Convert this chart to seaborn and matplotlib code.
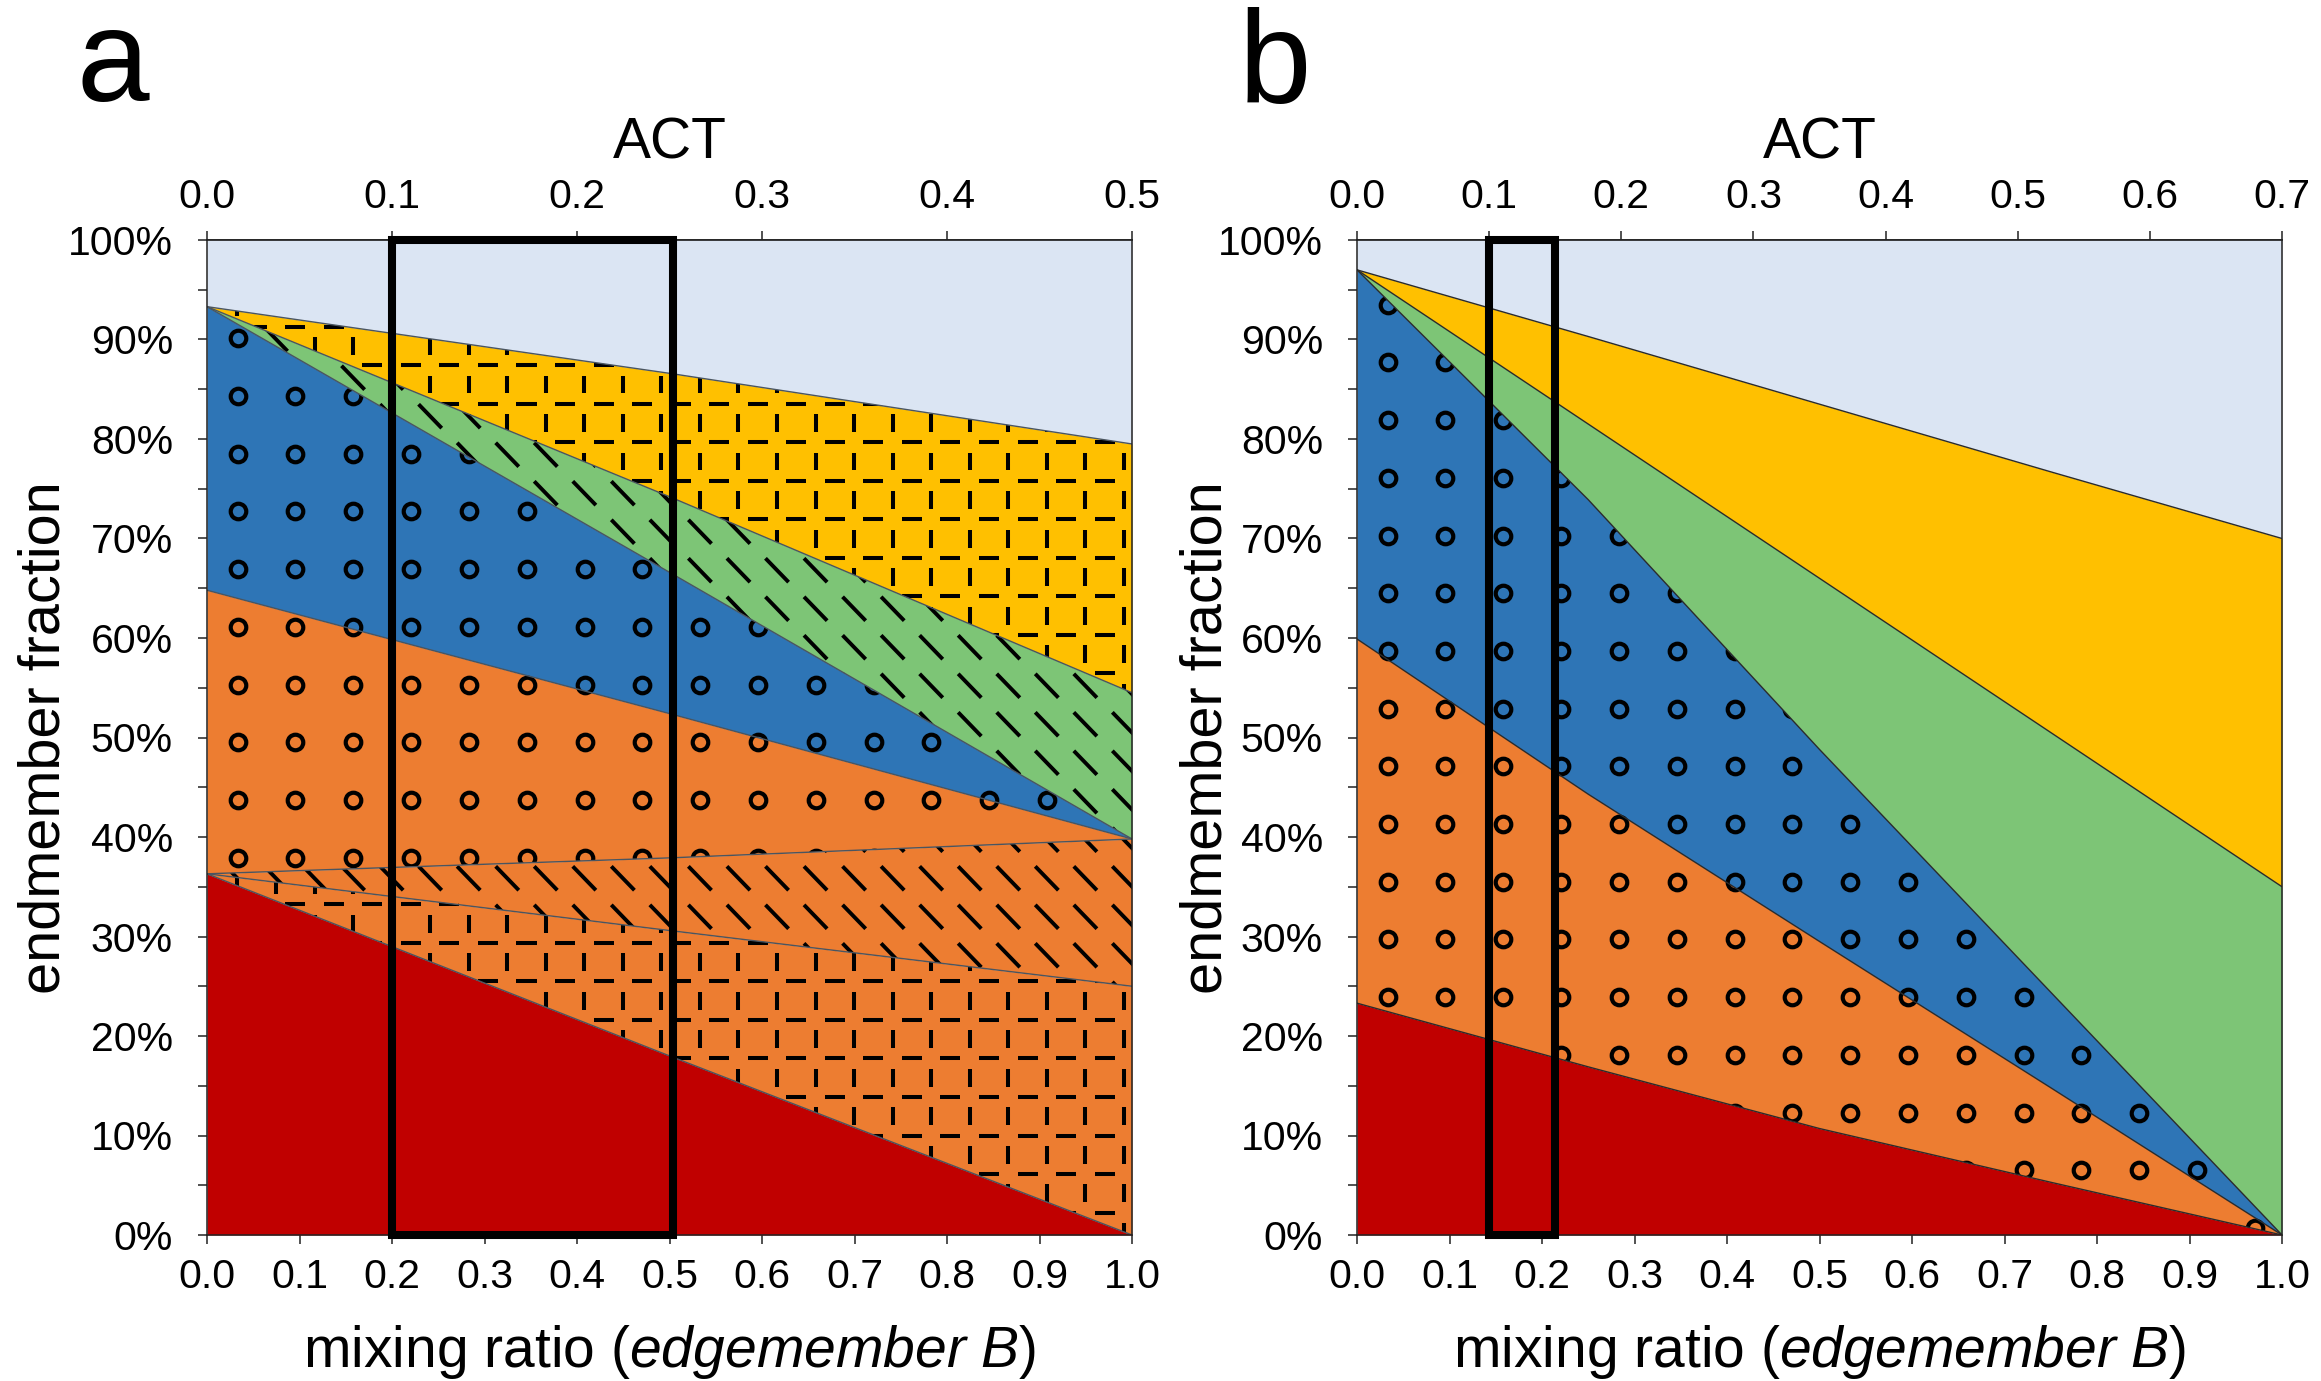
import numpy as np
import matplotlib
matplotlib.use("Agg")
import matplotlib.pyplot as plt
from matplotlib.patches import Polygon, Rectangle
from matplotlib.collections import LineCollection
import seaborn as sns

# ---- data (cumulative endmember fraction, %) ----
mix_a = [0.0, 0.5, 1.0]
a_red = [36.3, 18.0, 0.0]
a_div_low = [36.3, 30.6, 25.0]
a_div_high = [36.3, 37.9, 39.8]
a_orange = [64.8, 52.4, 39.8]
a_blue = [93.3, 66.6, 39.8]
a_green = [93.3, 74.2, 54.5]
a_yellow = [93.3, 86.6, 79.5]

mix_b = [0.0, 0.25, 0.5, 0.75, 1.0]
b_red = [23.3, 16.9, 10.7, 5.3, 0.0]
b_orange = [59.9, 44.3, 29.5, 14.8, 0.0]
b_blue = [97.0, 73.9, 48.8, 24.4, 0.0]
b_green = [97.0, 81.5, 66.0, 50.5, 35.0]
b_yellow = [97.0, 90.3, 83.5, 76.7, 70.0]

act_max_a = 0.5
act_max_b = 0.7
act_ticks_a = [0.0, 0.1, 0.2, 0.3, 0.4, 0.5]
act_ticks_b = [0.0, 0.1, 0.2, 0.3, 0.4, 0.5, 0.6, 0.7]
box_act_a = [0.10, 0.252]
box_act_b = [0.10, 0.15]
mix_ticks = [0.0, 0.1, 0.2, 0.3, 0.4, 0.5, 0.6, 0.7, 0.8, 0.9, 1.0]
pct_ticks = [0, 10, 20, 30, 40, 50, 60, 70, 80, 90, 100]

c_light = "#DBE5F3"
c_yellow = "#FFC000"
c_green = "#7DC576"
c_blue = "#2E75B6"
c_orange = "#ED7D31"
c_red = "#C00000"

sns.set_theme(style="ticks")
plt.rcParams["font.family"] = ["Liberation Sans", "DejaVu Sans"]
plt.rcParams["mathtext.fontset"] = "custom"
plt.rcParams["mathtext.rm"] = "Liberation Sans"
plt.rcParams["mathtext.it"] = "Liberation Sans:italic"
plt.rcParams["text.color"] = "black"
plt.rcParams["axes.labelcolor"] = "black"

TICK_FS = 29.5
LAB_FS = 41

# hatch cell sizes (texture only)
DX, DY = 1 / 24, 3.87
CX, CY = 1 / 16, 5.8


def region(ax, x, lo, hi, color):
    x = np.asarray(x, float)
    lo = np.asarray(lo, float)
    hi = np.asarray(hi, float)
    ax.fill_between(x, lo, hi, color=color, lw=0, zorder=1)
    verts = np.column_stack([np.r_[x, x[::-1]], np.r_[lo, hi[::-1]]])
    return Polygon(verts, closed=True, transform=ax.transData)


def circles(ax, clip, y0):
    gx, gy = np.meshgrid((np.arange(16) + 0.53) * CX, np.arange(y0, 100, CY))
    ln, = ax.plot(gx.ravel(), gy.ravel(), "o", ms=11.2, mfc="none",
                  mec="black", mew=3.0, zorder=2)
    ln.set_clip_path(clip)


def dash_grid(ax, clip):
    gx, gy = np.meshgrid((np.arange(-1, 26) + 0.79) * DX,
                         2.26 + np.arange(-1, 28) * DY)
    segs = []
    for x, y in zip(gx.ravel(), gy.ravel()):
        segs.append([(x, y + 0.27 * DY), (x, y + 0.73 * DY)])
        segs.append([(x + 0.24 * DX, y), (x + 0.76 * DX, y)])
    lc = LineCollection(segs, colors="black", linewidths=2.9, zorder=2,
                        capstyle="butt")
    ax.add_collection(lc)
    lc.set_clip_path(clip)


def diag_dashes(ax, clip):
    gx, gy = np.meshgrid((np.arange(-1, 26) + 0.79) * DX,
                         2.26 + (np.arange(-1, 28) + 0.68) * DY)
    segs = [[(x - 0.3 * DX, y + 0.31 * DY), (x + 0.3 * DX, y - 0.31 * DY)]
            for x, y in zip(gx.ravel(), gy.ravel())]
    lc = LineCollection(segs, colors="black", linewidths=2.8, zorder=2,
                        capstyle="butt")
    ax.add_collection(lc)
    lc.set_clip_path(clip)


def style_axes(ax, act_max, act_ticks, box_act, ylab_x):
    ax.set_xlim(0, 1)
    ax.set_ylim(0, 100)
    ax.set_xticks(mix_ticks, labels=[f"{t:.1f}" for t in mix_ticks])
    ax.set_yticks(pct_ticks, labels=[f"{t}%" for t in pct_ticks])
    ax.set_yticks(np.arange(5, 100, 10), minor=True)
    ax.tick_params(which="both", direction="out", length=6.5, width=1.1,
                   color="#222222", labelsize=TICK_FS, labelcolor="black")
    ax.tick_params(axis="x", pad=10)
    ax.tick_params(axis="y", pad=18)
    ax.tick_params(top=False, right=False)
    for s in ax.spines.values():
        s.set_linewidth(1.1)
        s.set_color("#222222")
        s.set_zorder(5)
    ax.set_xlabel(r"mixing ratio ($\mathit{edgemember\ B}$)", fontsize=LAB_FS)
    ax.xaxis.set_label_coords(0.5, -0.088)
    ax.set_ylabel("endmember fraction", fontsize=LAB_FS + 0.5)
    ax.yaxis.set_label_coords(ylab_x, 0.5)

    sec = ax.secondary_xaxis("top", functions=(lambda m, k=act_max: m * k,
                                               lambda t, k=act_max: t / k))
    sec.set_xticks(act_ticks, labels=[f"{t:.1f}" for t in act_ticks])
    sec.tick_params(direction="out", length=6.5, width=1.1, color="#222222",
                    labelsize=TICK_FS, labelcolor="black", pad=11)
    sec.set_xlabel("ACT", fontsize=LAB_FS, labelpad=14, color="black")

    x0, x1 = box_act[0] / act_max, box_act[1] / act_max
    ax.add_patch(Rectangle((x0, 0), x1 - x0, 100, fill=False, ec="black",
                           lw=5.8, zorder=10, clip_on=False,
                           joinstyle="miter"))


fig = plt.figure(figsize=(23.21, 13.81), dpi=100)
ax_a = fig.add_axes([207 / 2321, 146 / 1381, 925 / 2321, 995 / 1381])
ax_b = fig.add_axes([1357 / 2321, 146 / 1381, 925 / 2321, 995 / 1381])

# ---- panel a ----
ones_a = [100.0] * len(mix_a)
zeros_a = [0.0] * len(mix_a)
region(ax_a, mix_a, a_yellow, ones_a, c_light)
p = region(ax_a, mix_a, a_green, a_yellow, c_yellow)
dash_grid(ax_a, p)
p = region(ax_a, mix_a, a_blue, a_green, c_green)
diag_dashes(ax_a, p)
p = region(ax_a, mix_a, a_orange, a_blue, c_blue)
circles(ax_a, p, 3.12)
p = region(ax_a, mix_a, a_div_high, a_orange, c_orange)
circles(ax_a, p, 3.12)
p = region(ax_a, mix_a, a_div_low, a_div_high, c_orange)
diag_dashes(ax_a, p)
p = region(ax_a, mix_a, a_red, a_div_low, c_orange)
dash_grid(ax_a, p)
region(ax_a, mix_a, zeros_a, a_red, c_red)
for arr in [a_red, a_div_low, a_div_high, a_orange, a_blue, a_green, a_yellow]:
    sns.lineplot(x=mix_a, y=arr, ax=ax_a, color="#4a5560", lw=1.0, zorder=3)

# ---- panel b ----
ones_b = [100.0] * len(mix_b)
zeros_b = [0.0] * len(mix_b)
region(ax_b, mix_b, b_yellow, ones_b, c_light)
region(ax_b, mix_b, b_green, b_yellow, c_yellow)
region(ax_b, mix_b, b_blue, b_green, c_green)
p = region(ax_b, mix_b, b_orange, b_blue, c_blue)
circles(ax_b, p, 0.7)
p = region(ax_b, mix_b, b_red, b_orange, c_orange)
circles(ax_b, p, 0.7)
region(ax_b, mix_b, zeros_b, b_red, c_red)
for arr in [b_red, b_orange, b_blue, b_green, b_yellow]:
    sns.lineplot(x=mix_b, y=arr, ax=ax_b, color="#2b2b2b", lw=1.0, zorder=3)

style_axes(ax_a, act_max_a, act_ticks_a, box_act_a, -0.146)
style_axes(ax_b, act_max_b, act_ticks_b, box_act_b, -0.134)

fig.text(77 / 2321, 1 - 101 / 1381, "a", fontsize=94, ha="left", va="baseline")
fig.text(1239 / 2321, 1 - 103 / 1381, "b", fontsize=94, ha="left", va="baseline")

fig.savefig("out.png", dpi=100)
